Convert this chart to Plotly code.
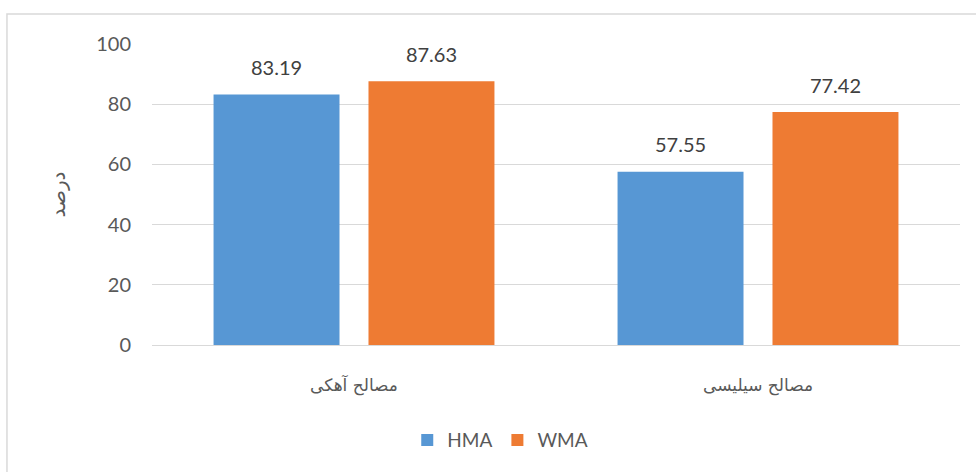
import plotly.graph_objects as go

categories = ["مصالح آهکی", "مصالح سیلیسی"]
hma_values = [83.19, 57.55]
wma_values = [87.63, 77.42]
series_names = ["HMA", "WMA"]
y_ticks = [0, 20, 40, 60, 80, 100]
y_title = "درصد"

font_family = "Lato, 'Open Sans', 'DejaVu Sans', sans-serif"
label_color = "#595959"

fig = go.Figure()
for name, vals, color in [(series_names[0], hma_values, "#5797D4"),
                          (series_names[1], wma_values, "#EE7B33")]:
    fig.add_trace(go.Bar(
        x=categories, y=vals, name=name,
        marker=dict(color=color, line=dict(width=0)),
        texttemplate="<span style='font-size:20px'>%{y:.2f}</span><br> ",
        textposition="outside",
        cliponaxis=False,
        textfont=dict(size=11, color="#404040", family=font_family),
    ))

fig.update_layout(
    width=976, height=472,
    margin=dict(l=152, r=16, t=44, b=127),
    paper_bgcolor="white", plot_bgcolor="white",
    barmode="group", bargap=0.233, bargroupgap=0.187,
    font=dict(family=font_family, color=label_color),
    showlegend=True,
    legend=dict(orientation="h", x=0.431, xanchor="center", y=-0.316, yanchor="middle",
                font=dict(size=19, color=label_color), itemwidth=30,
                traceorder="normal"),
    shapes=[dict(type="rect", xref="paper", yref="paper",
                 x0=-0.1795, x1=1.05, y0=-0.5, y1=1.0997,
                 line=dict(color="#D9D9D9", width=1.5), fillcolor="rgba(0,0,0,0)",
                 layer="below")],
)
fig.update_yaxes(range=[0, 100], tickvals=y_ticks, showgrid=True, gridcolor="#D9D9D9",
                 gridwidth=1.2, zeroline=True, zerolinecolor="#D9D9D9", zerolinewidth=1.2,
                 showline=False, ticks="", ticklabelstandoff=20,
                 tickfont=dict(size=20, color=label_color),
                 title=dict(text=y_title, standoff=25,
                            font=dict(size=20, color=label_color, family="'DejaVu Sans', sans-serif")))
fig.update_xaxes(showline=False, ticks="", ticklabelstandoff=28,
                 tickfont=dict(size=17, color=label_color, family="'DejaVu Sans', sans-serif"))

fig.write_html("out.html", config={"displayModeBar": False},
               post_script="document.body.style.margin='0';")
